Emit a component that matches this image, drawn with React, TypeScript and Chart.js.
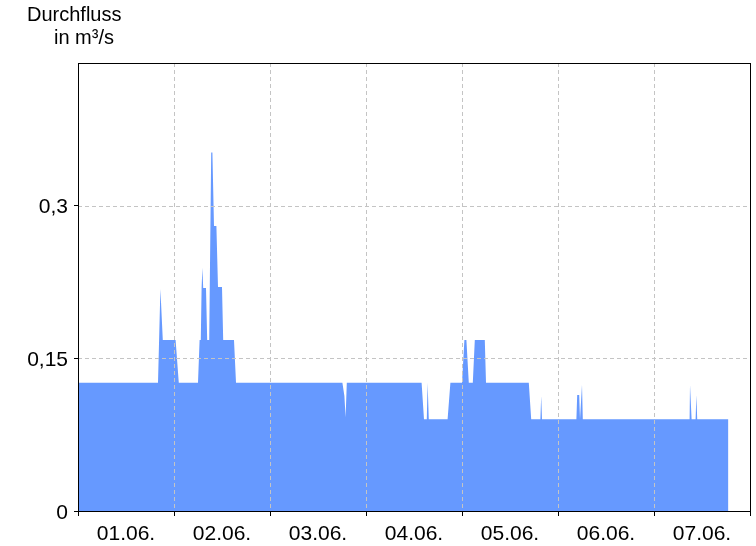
import React, { useEffect, useRef } from "react";
import { Chart, registerables } from "chart.js";

Chart.register(...registerables);

// Time in hours since 01.06. 00:00
const hours = [
  0, 20.0, 20.6, 21.2, 24.4, 25.2, 30.0, 30.4, 30.7, 30.9, 31.1, 31.3, 32.0, 32.3, 32.8,
  33.3, 33.6, 34.0, 34.6, 35.0, 36.0, 36.3, 39.0, 39.5, 66.1, 66.6, 66.9, 67.2, 85.9,
  86.5, 87.2, 87.4, 87.7, 92.4, 93.1, 96.0, 96.6, 97.1, 97.7, 98.7, 99.2, 101.7, 102.0,
  112.7, 113.3, 115.6, 115.8, 116.0, 124.6, 124.8, 125.3, 125.5, 126.0, 126.2, 152.9,
  153.0, 153.4, 154.4, 154.6, 154.8, 162.6,
];
// Durchfluss in m³/s
const flow = [
  0.126, 0.126, 0.218, 0.168, 0.168, 0.126, 0.126, 0.168, 0.168, 0.219, 0.239, 0.219, 0.219, 0.168, 0.168,
  0.352, 0.352, 0.28, 0.28, 0.22, 0.22, 0.168, 0.168, 0.126, 0.126, 0.113, 0.092, 0.126, 0.126,
  0.09, 0.09, 0.126, 0.09, 0.09, 0.126, 0.126, 0.168, 0.168, 0.126, 0.126, 0.168, 0.168, 0.126,
  0.126, 0.09, 0.09, 0.113, 0.09, 0.09, 0.114, 0.114, 0.09, 0.124, 0.09, 0.09,
  0.124, 0.09, 0.09, 0.114, 0.09, 0.09,
];

const dayLabels = ["01.06.", "02.06.", "03.06.", "04.06.", "05.06.", "06.06.", "07.06."];
const yTicks = [0, 0.15, 0.3];
const yTickLabels = ["0", "0,15", "0,3"];
const titleLines = ["Durchfluss", "in m³/s"];

const FONT = '"Liberation Sans", Arial, sans-serif';

export default function App() {
  const ref = useRef<HTMLCanvasElement | null>(null);

  useEffect(() => {
    const canvas = ref.current;
    if (!canvas) return;

    const overlay = {
      id: "overlay",
      afterDatasetsDraw(chart: any) {
        const { ctx, chartArea } = chart;
        const xs = chart.scales.x;
        const ys = chart.scales.y;
        ctx.save();
        ctx.strokeStyle = "#c4c4c4";
        ctx.lineWidth = 1;
        ctx.setLineDash([4, 3]);
        for (let d = 1; d < dayLabels.length; d++) {
          const px = Math.round(xs.getPixelForValue(d * 24)) + 0.5;
          ctx.beginPath();
          ctx.moveTo(px, chartArea.top);
          ctx.lineTo(px, chartArea.bottom);
          ctx.stroke();
        }
        for (const v of yTicks) {
          if (v === 0) continue;
          const py = Math.round(ys.getPixelForValue(v)) + 0.5;
          ctx.beginPath();
          ctx.moveTo(chartArea.left, py);
          ctx.lineTo(chartArea.right, py);
          ctx.stroke();
        }
        ctx.setLineDash([]);
        ctx.strokeStyle = "#000";
        ctx.strokeRect(
          Math.round(chartArea.left) + 0.5,
          Math.round(chartArea.top) + 0.5,
          Math.round(chartArea.right - chartArea.left),
          Math.round(chartArea.bottom - chartArea.top)
        );
        ctx.restore();
      },
      afterDraw(chart: any) {
        const { ctx } = chart;
        ctx.save();
        ctx.fillStyle = "#000";
        ctx.font = "20px " + FONT;
        ctx.textBaseline = "alphabetic";
        ctx.textAlign = "left";
        ctx.fillText(titleLines[0], 27, 21);
        ctx.textAlign = "center";
        ctx.fillText(titleLines[1], 84, 44);
        ctx.restore();
      },
    };

    const chart = new Chart(canvas, {
      type: "line",
      data: {
        datasets: [
          {
            data: hours.map((h, i) => ({ x: h, y: flow[i] })),
            backgroundColor: "#6699ff",
            borderColor: "#6699ff",
            borderWidth: 0,
            pointRadius: 0,
            fill: "origin",
            tension: 0,
          },
        ],
      },
      options: {
        responsive: false,
        animation: false,
        devicePixelRatio: 1,
        layout: { padding: { top: 63, right: 5, left: 0, bottom: 0 } },
        plugins: {
          legend: { display: false },
          title: { display: false },
          tooltip: { enabled: false },
        },
        scales: {
          x: {
            type: "linear",
            min: 0,
            max: 168,
            afterFit(scale: any) {
              scale.height = 35;
            },
            afterBuildTicks(scale: any) {
              const t = [];
              for (let h = 0; h <= 168; h += 12) t.push({ value: h });
              scale.ticks = t;
            },
            border: { display: false },
            grid: {
              drawOnChartArea: false,
              drawTicks: true,
              tickLength: 5,
              color: (c: any) => (c.tick && c.tick.value % 24 === 0 ? "#000" : "rgba(0,0,0,0)"),
            },
            ticks: {
              autoSkip: false,
              maxRotation: 0,
              padding: 6,
              color: "#000",
              font: { family: FONT, size: 21 },
              callback: (v: any) => {
                const n = Number(v);
                return n % 24 === 12 ? dayLabels[(n - 12) / 24] : "";
              },
            },
          },
          y: {
            min: 0,
            max: 0.44,
            afterFit(scale: any) {
              scale.width = 78;
            },
            afterBuildTicks(scale: any) {
              scale.ticks = yTicks.map((v) => ({ value: v }));
            },
            border: { display: false },
            grid: {
              drawOnChartArea: false,
              drawTicks: true,
              tickLength: 4,
              color: "#000",
            },
            ticks: {
              padding: 6,
              labelOffset: 2,
              color: "#000",
              font: { family: FONT, size: 21 },
              callback: (v: any) => {
                const i = yTicks.indexOf(Number(v));
                return i >= 0 ? yTickLabels[i] : "";
              },
            },
          },
        },
      },
      plugins: [overlay],
    });

    return () => chart.destroy();
  }, []);

  return (
    <div style={{ position: "absolute", left: 0, top: 0, width: 756, height: 546, background: "#fff" }}>
      <canvas ref={ref} width={756} height={546} style={{ display: "block" }} />
    </div>
  );
}
